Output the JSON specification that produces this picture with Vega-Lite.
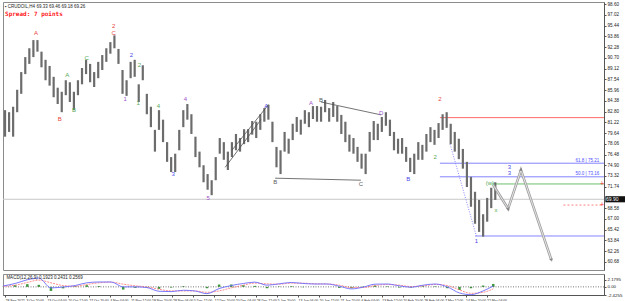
{
  "$schema": "https://vega.github.io/schema/vega-lite/v6.json",
  "padding": 0,
  "background": "white",
  "spacing": 2,
  "config": {
    "view": {"stroke": "#8c8c8c", "strokeWidth": 1},
    "font": "Liberation Sans",
    "axis": {"labelFont": "Liberation Sans", "labelFontSize": 5, "labelColor": "#222", "domainColor": "#555", "tickColor": "#555", "tickSize": 2, "grid": false, "title": null, "labelOverlap": false, "labelBound": false}
  },
  "datasets": {
    "price": [
      {"b":0,"h":83.0,"l":79.1},{"b":6,"h":82.7,"l":79.8},{"b":12,"h":83.5,"l":79.1},{"b":18,"h":86.0,"l":82.7},{"b":24,"h":88.6,"l":85.4},{"b":30,"h":90.8,"l":88.3},{"b":36,"h":92.1,"l":89.8},{"b":42,"h":93.3,"l":90.8},{"b":48,"h":93.3,"l":91.6},{"b":54,"h":91.6,"l":89.3},
      {"b":60,"h":90.4,"l":87.4},{"b":66,"h":89.5,"l":86.6},{"b":72,"h":87.9,"l":84.9},{"b":78,"h":86.3,"l":83.9},{"b":84,"h":85.7,"l":82.7},{"b":90,"h":87.4,"l":85.2},{"b":96,"h":87.1,"l":84.2},{"b":102,"h":85.7,"l":83.0},{"b":108,"h":87.4,"l":85.2},{"b":114,"h":89.2,"l":86.8},
      {"b":120,"h":90.4,"l":88.3},{"b":126,"h":89.8,"l":87.1},{"b":132,"h":88.6,"l":86.4},{"b":138,"h":90.1,"l":87.7},{"b":144,"h":91.1,"l":88.9},{"b":150,"h":92.1,"l":90.1},{"b":156,"h":93.0,"l":91.3},{"b":162,"h":94.0,"l":92.1},{"b":168,"h":92.0,"l":89.8},{"b":174,"h":88.9,"l":85.4},
      {"b":180,"h":87.4,"l":85.1},{"b":186,"h":90.1,"l":87.7},{"b":192,"h":90.4,"l":87.9},{"b":198,"h":86.8,"l":84.2},{"b":204,"h":89.6,"l":87.4},{"b":210,"h":85.4,"l":82.4},{"b":216,"h":83.5,"l":80.5},{"b":222,"h":80.1,"l":76.9},{"b":228,"h":83.0,"l":80.1},{"b":234,"h":81.6,"l":78.3},
      {"b":240,"h":78.3,"l":75.4},{"b":246,"h":76.1,"l":73.9},{"b":252,"h":76.6,"l":73.9},{"b":258,"h":80.1,"l":77.1},{"b":264,"h":83.0,"l":80.5},{"b":270,"h":83.9,"l":81.6},{"b":276,"h":82.4,"l":79.5},{"b":282,"h":79.1,"l":76.1},{"b":288,"h":76.9,"l":74.6},{"b":294,"h":74.9,"l":72.4},
      {"b":300,"h":73.6,"l":71.3},{"b":306,"h":72.7,"l":70.5},{"b":312,"h":76.1,"l":72.7},{"b":318,"h":78.9,"l":76.6},{"b":324,"h":78.3,"l":75.7},{"b":330,"h":76.9,"l":74.2},{"b":336,"h":78.3,"l":76.1},{"b":342,"h":79.5,"l":77.1},{"b":348,"h":78.9,"l":76.9},{"b":354,"h":80.2,"l":78.0},
      {"b":360,"h":80.2,"l":78.3},{"b":366,"h":81.4,"l":79.4},{"b":372,"h":81.3,"l":78.9},{"b":378,"h":82.4,"l":80.1},{"b":384,"h":83.3,"l":81.3},{"b":390,"h":83.8,"l":81.6},{"b":396,"h":81.3,"l":78.3},{"b":402,"h":77.6,"l":74.6},{"b":408,"h":77.1,"l":73.6},{"b":414,"h":79.8,"l":76.9},
      {"b":420,"h":78.8,"l":76.6},{"b":426,"h":81.0,"l":78.6},{"b":432,"h":82.0,"l":79.8},{"b":438,"h":81.6,"l":79.4},{"b":444,"h":83.0,"l":81.0},{"b":450,"h":82.7,"l":80.5},{"b":456,"h":83.6,"l":81.7},{"b":462,"h":83.6,"l":81.3},{"b":468,"h":83.5,"l":81.3},{"b":474,"h":84.5,"l":82.7},
      {"b":480,"h":83.3,"l":81.3},{"b":486,"h":84.2,"l":82.0},{"b":492,"h":83.6,"l":81.3},{"b":498,"h":82.3,"l":79.5},{"b":504,"h":81.3,"l":78.3},{"b":510,"h":79.4,"l":76.9},{"b":516,"h":78.9,"l":76.6},{"b":522,"h":77.6,"l":75.4},{"b":528,"h":76.6,"l":74.4},{"b":534,"h":76.6,"l":73.6},
      {"b":540,"h":79.8,"l":76.9},{"b":546,"h":81.4,"l":78.6},{"b":552,"h":81.0,"l":78.6},{"b":558,"h":82.0,"l":79.8},{"b":564,"h":82.7,"l":80.7},{"b":570,"h":81.6,"l":79.2},{"b":576,"h":79.8,"l":77.1},{"b":582,"h":78.8,"l":76.6},{"b":588,"h":78.9,"l":76.6},{"b":594,"h":77.6,"l":75.4},
      {"b":600,"h":76.0,"l":73.9},{"b":606,"h":76.6,"l":73.6},{"b":612,"h":78.3,"l":75.7},{"b":618,"h":77.9,"l":75.7},{"b":624,"h":79.5,"l":76.9},{"b":630,"h":80.5,"l":78.3},{"b":636,"h":80.1,"l":77.9},{"b":642,"h":81.1,"l":78.9},{"b":648,"h":82.4,"l":80.1},{"b":654,"h":82.7,"l":80.4},
      {"b":660,"h":81.0,"l":78.0},{"b":666,"h":79.8,"l":76.9},{"b":672,"h":78.8,"l":75.8},{"b":678,"h":77.3,"l":74.4},{"b":684,"h":75.4,"l":71.7},{"b":690,"h":73.2,"l":68.8},{"b":696,"h":71.0,"l":66.3},{"b":702,"h":69.8,"l":65.1},{"b":708,"h":67.7,"l":64.4},{"b":714,"h":70.1,"l":66.6},
      {"b":720,"h":71.6,"l":68.6},{"b":726,"h":72.4,"l":69.8}
    ],
    "levels": [
      {"b":644,"b2":887,"p":81.9,"k":"start"},
      {"b":644,"b2":887,"p":75.2,"k":"fib"},
      {"b":644,"b2":887,"p":73.2,"k":"fib"},
      {"b":721,"b2":887,"p":72.15,"k":"target"},
      {"b":696,"b2":887,"p":64.5,"k":"fib"}
    ],
    "trend": [
      {"id":"bc","b":400,"p":73.0},{"id":"bc","b":527,"p":72.7},
      {"id":"bd","b":468,"p":84.2},{"id":"bd","b":557,"p":82.3},
      {"id":"w1","b":326,"p":74.6},{"id":"w1","b":379,"p":81.6},
      {"id":"w2","b":336,"p":77.1},{"id":"w2","b":390,"p":83.8}
    ],
    "proj": [
      {"o":1,"b":723,"p":72.0},{"o":2,"b":745,"p":68.5},{"o":3,"b":764,"p":74.2},{"o":4,"b":809,"p":61.0}
    ],
    "heads": [
      {"b":745,"p":68.5,"deg":148},{"b":764,"p":74.2,"deg":18},{"b":809,"p":61.0,"deg":162}
    ],
    "waves": [
      {"b":46,"p":94.3,"t":"A","d":"P"},{"b":81,"p":81.7,"t":"B","d":"P"},{"b":161,"p":95.4,"t":"2","d":"P"},{"b":161,"p":94.3,"t":"C","d":"P"},
      {"b":121,"p":90.7,"t":"C","d":"I"},{"b":92,"p":88.2,"t":"A","d":"I"},{"b":102,"p":83.0,"t":"B","d":"I"},
      {"b":178,"p":84.6,"t":"1","d":"M"},{"b":187,"p":91.1,"t":"2","d":"B"},{"b":199,"p":89.6,"t":"2","d":"I"},{"b":197,"p":84.1,"t":"1","d":"I"},
      {"b":227,"p":83.6,"t":"4","d":"I"},{"b":249,"p":73.6,"t":"3","d":"B"},{"b":267,"p":84.6,"t":"4","d":"M"},{"b":301,"p":70.1,"t":"5","d":"M"},
      {"b":387,"p":83.6,"t":"A","d":"B"},{"b":400,"p":72.4,"t":"B","d":"X"},{"b":527,"p":72.1,"t":"C","d":"X"},{"b":557,"p":82.6,"t":"D","d":"M"},
      {"b":468,"p":84.5,"t":"B","d":"X"},{"b":453,"p":84.1,"t":"A","d":"M"},{"b":597,"p":72.9,"t":"B","d":"B"},
      {"b":644,"p":84.6,"t":"2","d":"P"},{"b":637,"p":76.1,"t":"2","d":"I"},{"b":718,"p":72.3,"t":"(w)","d":"I"},{"b":727,"p":68.3,"t":"x","d":"I"},
      {"b":747,"p":74.6,"t":"3","d":"B"},{"b":747,"p":73.8,"t":"3","d":"B"},{"b":698,"p":63.8,"t":"1","d":"B"}
    ],
    "macd": [
      {"b":-3,"m":0.26,"s":0.2,"h":0.06},{"b":15,"m":1.0,"s":0.5,"h":0.5},{"b":33,"m":2.1,"s":1.3,"h":0.8},{"b":50,"m":2.6,"s":2.0,"h":0.6},{"b":68,"m":-0.3,"s":1.2,"h":-1.2},{"b":86,"m":-0.04,"s":0.4,"h":-0.44},
      {"b":104,"m":0.4,"s":0.2,"h":0.2},{"b":121,"m":1.2,"s":0.7,"h":0.5},{"b":139,"m":1.44,"s":1.2,"h":0.24},{"b":157,"m":1.44,"s":1.4,"h":0.04},{"b":175,"m":0.0,"s":0.8,"h":-0.8},{"b":193,"m":0.0,"s":0.3,"h":-0.3},
      {"b":210,"m":-0.2,"s":0.0,"h":-0.2},{"b":228,"m":-1.3,"s":-0.7,"h":-0.6},{"b":246,"m":-1.4,"s":-1.2,"h":-0.2},{"b":264,"m":-1.0,"s":-1.2,"h":0.2},{"b":281,"m":-1.2,"s":-1.2,"h":0.0},{"b":299,"m":-2.0,"s":-1.6,"h":-0.4},
      {"b":317,"m":-0.5,"s":-1.2,"h":0.7},{"b":335,"m":0.4,"s":-0.3,"h":0.7},{"b":353,"m":1.0,"s":0.5,"h":0.5},{"b":370,"m":1.4,"s":1.1,"h":0.3},{"b":388,"m":0.5,"s":0.9,"h":-0.4},{"b":406,"m":0.9,"s":0.8,"h":0.1},
      {"b":424,"m":1.3,"s":1.1,"h":0.2},{"b":441,"m":1.0,"s":1.1,"h":-0.1},{"b":459,"m":0.85,"s":0.9,"h":-0.05},{"b":477,"m":0.85,"s":0.85,"h":0.0},{"b":495,"m":0.2,"s":0.5,"h":-0.3},{"b":513,"m":-0.6,"s":-0.2,"h":-0.4},
      {"b":530,"m":-0.1,"s":-0.2,"h":0.1},{"b":548,"m":0.8,"s":0.4,"h":0.4},{"b":566,"m":0.85,"s":0.7,"h":0.15},{"b":584,"m":0.3,"s":0.5,"h":-0.2},{"b":601,"m":-0.1,"s":0.1,"h":-0.2},{"b":619,"m":0.5,"s":0.3,"h":0.2},
      {"b":637,"m":0.85,"s":0.7,"h":0.15},{"b":655,"m":0.0,"s":0.4,"h":-0.4},{"b":673,"m":-1.8,"s":-0.9,"h":-0.9},{"b":690,"m":-2.3,"s":-1.9,"h":-0.4},{"b":708,"m":-1.2,"s":-1.6,"h":0.4},{"b":723,"m":0.26,"s":-0.6,"h":0.86}
    ]
  },
  "vconcat": [
    {
      "width": 601,
      "height": 268,
      "resolve": {"scale": {"color": "independent"}},
      "layer": [
        {
          "data": {"values": [{"p": 69.9}]},
          "mark": {"type": "rule", "color": "#c8c8c8", "strokeWidth": 1},
          "encoding": {"y": {"field": "p", "type": "quantitative", "scale": {"domain": [59.5, 98.9], "nice": false, "zero": false}}}
        },
        {
          "data": {"name": "levels"},
          "mark": {"type": "rule", "strokeWidth": 1},
          "encoding": {
            "x": {"field": "b", "type": "quantitative"},
            "x2": {"field": "b2"},
            "y": {"field": "p", "type": "quantitative"},
            "color": {"field": "k", "type": "nominal", "legend": null, "scale": {"domain": ["start", "fib", "target"], "range": ["#ff6868", "#8484ff", "#6cbf6c"]}}
          }
        },
        {
          "data": {"values": [{"b": 827, "b2": 884, "p": 69.05}]},
          "mark": {"type": "rule", "color": "#ff8080", "strokeWidth": 1, "strokeDash": [2, 2]},
          "encoding": {"x": {"field": "b", "type": "quantitative"}, "x2": {"field": "b2"}, "y": {"field": "p", "type": "quantitative"}}
        },
        {
          "data": {"name": "price"},
          "mark": {"type": "rule", "color": "#6c6c6c", "strokeWidth": 2.2},
          "encoding": {
            "x": {"field": "b", "type": "quantitative", "scale": {"domain": [-3, 887], "nice": false, "zero": false}, "axis": null},
            "y": {"field": "l", "type": "quantitative", "axis": {"orient": "right", "tickCount": 100, "values": [98.6, 97.02, 95.44, 93.86, 92.28, 90.7, 89.12, 87.54, 85.96, 84.38, 82.8, 81.22, 79.64, 78.06, 76.48, 74.9, 73.32, 71.74, 68.58, 67.0, 65.42, 63.84, 62.26, 60.68], "format": ".2f", "labelPadding": 1, "labelOverlap": false, "labelFontSize": 4.6}},
            "y2": {"field": "h"}
          }
        },
        {
          "data": {"name": "trend"},
          "mark": {"type": "line", "color": "#505050", "strokeWidth": 0.8},
          "encoding": {"x": {"field": "b", "type": "quantitative"}, "y": {"field": "p", "type": "quantitative"}, "detail": {"field": "id"}}
        },
        {
          "data": {"values": [{"b": 659, "p": 78.0}, {"b": 698, "p": 64.5}]},
          "mark": {"type": "line", "color": "#6a6aff", "strokeWidth": 0.8, "strokeDash": [1, 1.5]},
          "encoding": {"x": {"field": "b", "type": "quantitative"}, "y": {"field": "p", "type": "quantitative"}}
        },
        {
          "data": {"name": "proj"},
          "mark": {"type": "line", "color": "#a0a0a0", "strokeWidth": 2.6},
          "encoding": {"x": {"field": "b", "type": "quantitative"}, "y": {"field": "p", "type": "quantitative"}, "order": {"field": "o"}}
        },
        {
          "data": {"name": "proj"},
          "mark": {"type": "line", "color": "#ececec", "strokeWidth": 0.9},
          "encoding": {"x": {"field": "b", "type": "quantitative"}, "y": {"field": "p", "type": "quantitative"}, "order": {"field": "o"}}
        },
        {
          "data": {"name": "heads"},
          "mark": {"type": "point", "shape": "triangle", "filled": true, "color": "#707070", "size": 14},
          "encoding": {"x": {"field": "b", "type": "quantitative"}, "y": {"field": "p", "type": "quantitative"}, "angle": {"field": "deg", "type": "quantitative", "scale": null}}
        },
        {
          "data": {"name": "waves"},
          "mark": {"type": "text", "fontSize": 6, "baseline": "middle", "align": "center"},
          "encoding": {
            "x": {"field": "b", "type": "quantitative"},
            "y": {"field": "p", "type": "quantitative"},
            "text": {"field": "t"},
            "color": {"field": "d", "type": "nominal", "legend": null, "scale": {"domain": ["P", "I", "M", "B", "X"], "range": ["#e8453c", "#55a855", "#a052c8", "#4a4ae8", "#606060"]}}
          }
        },
        {
          "data": {"values": [{"b": 880, "p": 75.2, "t": "61.8 | 75.21"}, {"b": 880, "p": 73.2, "t": "50.0 | 73.16"}]},
          "mark": {"type": "text", "fontSize": 4.5, "baseline": "bottom", "align": "right", "color": "#5050ff", "dy": -0.5},
          "encoding": {"x": {"field": "b", "type": "quantitative"}, "y": {"field": "p", "type": "quantitative"}, "text": {"field": "t"}}
        },
        {
          "data": {"values": [{"b": 884, "p": 72.15}, {"b": 884, "p": 69.05}]},
          "mark": {"type": "text", "fontSize": 7, "baseline": "middle", "align": "center", "color": "#ff3030", "text": "+"},
          "encoding": {"x": {"field": "b", "type": "quantitative"}, "y": {"field": "p", "type": "quantitative"}}
        },
        {
          "data": {"values": [{"b": 0, "p": 98.2, "t": "▪ CRUDOIL,H4  69.33 69.46 69.18 69.26"}]},
          "mark": {"type": "text", "fontSize": 4.5, "baseline": "middle", "align": "left", "color": "#222"},
          "encoding": {"x": {"field": "b", "type": "quantitative"}, "y": {"field": "p", "type": "quantitative"}, "text": {"field": "t"}}
        },
        {
          "data": {"values": [{"b": 0, "p": 97.1, "t": "Spread: 7 points"}]},
          "mark": {"type": "text", "fontSize": 6, "font": "DejaVu Sans Mono", "fontWeight": "bold", "baseline": "middle", "align": "left", "color": "#ff2020"},
          "encoding": {"x": {"field": "b", "type": "quantitative"}, "y": {"field": "p", "type": "quantitative"}, "text": {"field": "t"}}
        },
        {
          "data": {"values": [{"b": 889, "b2": 924, "lo": 69.45, "hi": 70.35}]},
          "mark": {"type": "rect", "color": "#111"},
          "encoding": {"x": {"field": "b", "type": "quantitative"}, "x2": {"field": "b2"}, "y": {"field": "lo", "type": "quantitative"}, "y2": {"field": "hi"}}
        },
        {
          "data": {"values": [{"b": 890, "p": 69.9, "t": "69.90"}]},
          "mark": {"type": "text", "fontSize": 5, "baseline": "middle", "align": "left", "color": "white"},
          "encoding": {"x": {"field": "b", "type": "quantitative"}, "y": {"field": "p", "type": "quantitative"}, "text": {"field": "t"}}
        }
      ]
    },
    {
      "width": 601,
      "height": 21,
      "layer": [
        {
          "data": {"name": "macd"},
          "mark": {"type": "rule", "color": "#3c9a3c", "strokeWidth": 2.5},
          "encoding": {
            "x": {"field": "b", "type": "quantitative", "scale": {"domain": [-3, 887], "nice": false, "zero": false},
              "axis": {"tickCount": 100, "values": [0, 31, 62, 93, 124, 155, 186, 217, 248, 279, 310, 341, 372, 403, 434, 465, 496, 527, 558, 589, 620, 651, 682, 713],
                "labelExpr": "['28 Sep 2022','3 Oct 20:00','13 Oct 04:00','20 Oct 12:00','27 Oct 20:00','4 Nov 04:00','11 Nov 12:00','18 Nov 20:00','28 Nov 04:00','5 Dec 12:00','12 Dec 20:00','20 Dec 04:00','28 Dec 12:00','5 Jan 20:00','13 Jan 04:00','20 Jan 12:00','27 Jan 20:00','6 Feb 04:00','13 Feb 12:00','20 Feb 20:00','28 Feb 04:00','7 Mar 12:00','14 Mar 20:00','22 Mar 04:00'][round(datum.value/31)]",
                "labelAlign": "left", "labelPadding": 1, "labelOverlap": false, "labelFlush": false, "labelFontSize": 3.4}},
            "y": {"field": "h", "type": "quantitative", "scale": {"domain": [-2.4, 3.8], "nice": false, "zero": false},
              "axis": {"orient": "right", "tickCount": 100, "values": [2.1, 0, -2.4], "labelExpr": "datum.value == 0 ? '0.00' : (datum.value > 0 ? '2.1795' : '-2.4255')", "labelPadding": 1, "labelOverlap": false, "labelFontSize": 4.4}},
            "y2": {"datum": 0}
          }
        },
        {
          "data": {"values": [{"v": 0}]},
          "mark": {"type": "rule", "color": "#555", "strokeWidth": 0.8, "strokeDash": [1, 1.5]},
          "encoding": {"y": {"field": "v", "type": "quantitative"}}
        },
        {
          "data": {"name": "macd"},
          "mark": {"type": "line", "color": "#ff7070", "strokeWidth": 0.8, "strokeDash": [2, 1], "interpolate": "monotone"},
          "encoding": {"x": {"field": "b", "type": "quantitative"}, "y": {"field": "s", "type": "quantitative"}}
        },
        {
          "data": {"name": "macd"},
          "mark": {"type": "line", "color": "#6c6cff", "strokeWidth": 0.9, "interpolate": "monotone"},
          "encoding": {"x": {"field": "b", "type": "quantitative"}, "y": {"field": "m", "type": "quantitative"}}
        },
        {
          "data": {"values": [{"b": 2, "v": 2.6, "t": "MACD(12,26,9) 0.1923 0.2431 0.2569"}]},
          "mark": {"type": "text", "fontSize": 4.5, "baseline": "middle", "align": "left", "color": "#222"},
          "encoding": {"x": {"field": "b", "type": "quantitative"}, "y": {"field": "v", "type": "quantitative"}, "text": {"field": "t"}}
        }
      ]
    }
  ]
}
